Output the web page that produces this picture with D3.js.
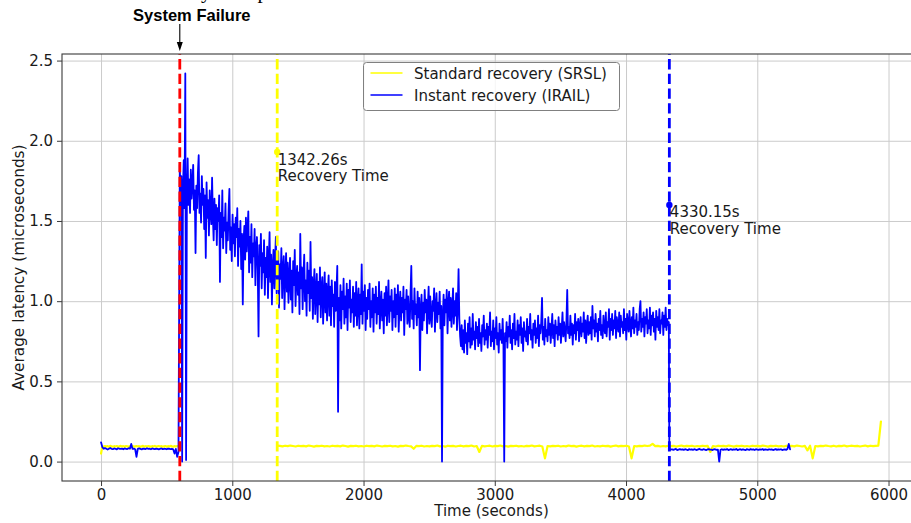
<!DOCTYPE html>
<html>
<head>
<meta charset="utf-8">
<script src="https://cdn.jsdelivr.net/npm/d3@7"></script>
<style>
  body { margin: 0; background: #fff; }
  svg { display: block; font-family: "DejaVu Sans", sans-serif; }
</style>
</head>
<body>
<svg id="chart" width="911" height="523"></svg>
<script>
// ---- data -------------------------------------------------------------
const xTicks = [0, 1000, 2000, 3000, 4000, 5000, 6000];
const yTicks = [0, 0.5, 1.0, 1.5, 2.0, 2.5];
const yTickLabels = ["0.0", "0.5", "1.0", "1.5", "2.0", "2.5"];
const seriesNames = ["Standard recovery (SRSL)", "Instant recovery (IRAIL)"];

const failureTime = 600;            // seconds
const srslRecoveryTime = 1342.26;   // seconds
const irailRecoveryTime = 4330.15;  // seconds
const srslMarkerLatency = 1.93;
const irailMarkerLatency = 1.60;

// IRAIL latency before the failure (t = 0 .. 590 s, every 10 s)
const irailBeforeStart = 0, irailBeforeStep = 10;
const irailBefore = [
  0.12, 0.09, 0.08, 0.085, 0.08, 0.075, 0.08, 0.085, 0.08, 0.078,
  0.082, 0.08, 0.076, 0.083, 0.08, 0.079, 0.081, 0.077, 0.082, 0.08,
  0.078, 0.083, 0.08, 0.11, 0.079, 0.081, 0.077, 0.03, 0.08, 0.082,
  0.079, 0.076, 0.081, 0.08, 0.078, 0.083, 0.079, 0.08, 0.077, 0.082,
  0.08, 0.078, 0.081, 0.079, 0.076, 0.08, 0.082, 0.078, 0.08, 0.079,
  0.077, 0.081, 0.08, 0.078, 0.08, 0.076, 0.05, 0.079, 0.03, 0.06
];

// IRAIL latency while recovering (t = 600 .. 4326 s, every 6 s)
const irailRecoveringStart = 600, irailRecoveringStep = 6;
const irailRecovering = [
  1.85, 1.62, 1.78, 0.00, 1.70, 1.88, 1.58, 2.42, 0.01, 1.66,
  1.89, 1.60, 1.76, 1.55, 1.82, 1.64, 1.73, 1.85, 1.57, 1.69,
  1.30, 1.72, 1.58, 1.80, 1.91, 1.55, 1.67, 1.49, 1.78, 1.60,
  1.70, 1.45, 1.66, 1.27, 1.74, 1.52, 1.63, 1.41, 1.69, 1.56,
  1.48, 1.77, 1.53, 1.38, 1.64, 1.45, 1.60, 1.35, 1.58, 1.50,
  1.66, 1.12, 1.55, 1.40, 1.69, 1.33, 1.52, 1.44, 1.61, 1.30,
  1.49, 1.38, 1.57, 1.70, 1.32, 1.46, 1.25, 1.54, 1.36, 1.48,
  1.28, 1.52, 1.40, 1.58, 1.22, 1.45, 1.34, 1.50, 1.20, 1.42,
  0.98, 1.38, 1.47, 1.26, 1.52, 1.31, 1.44, 1.56, 1.18, 1.40,
  1.24, 1.48, 1.15, 1.36, 1.28, 1.45, 1.10, 1.33, 1.40, 1.19,
  0.78, 1.35, 1.22, 1.42, 1.08, 1.30, 1.18, 1.38, 1.04, 1.27,
  1.15, 1.34, 1.02, 1.25, 1.43, 1.12, 1.29, 0.98, 1.21, 1.32,
  1.08, 1.26, 1.40, 1.05, 1.19, 1.31, 0.96, 1.23, 1.14, 1.33,
  1.02, 1.20, 1.28, 0.95, 1.17, 1.30, 1.06, 1.24, 0.99, 1.15,
  1.27, 1.01, 1.19, 0.93, 1.25, 1.10, 1.32, 0.97, 1.14, 1.22,
  1.04, 1.18, 0.92, 1.42, 1.08, 1.21, 0.95, 1.16, 1.29, 1.00,
  1.13, 0.91, 1.24, 1.05, 1.19, 0.94, 1.37, 1.02, 1.15, 0.89,
  1.10, 1.20, 0.92, 1.06, 1.17, 0.87, 1.12, 0.98, 1.21, 0.90,
  1.08, 1.15, 0.86, 1.03, 1.18, 0.93, 1.11, 0.88, 1.05, 1.16,
  0.91, 1.09, 0.85, 1.13, 0.97, 1.04, 0.84, 1.12, 0.94, 1.07,
  1.22, 0.31, 1.02, 0.88, 1.10, 0.83, 1.06, 0.95, 1.14, 0.86,
  1.03, 0.90, 1.11, 0.82, 1.07, 0.96, 1.13, 0.87, 1.01, 0.93,
  1.09, 0.84, 1.05, 0.91, 1.12, 0.85, 0.99, 1.08, 0.83, 1.04,
  0.92, 1.23, 0.86, 1.06, 0.94, 1.10, 0.82, 1.02, 0.89, 1.07,
  0.95, 1.11, 0.84, 1.00, 0.90, 1.08, 0.81, 1.04, 0.93, 1.09,
  0.86, 1.02, 0.92, 1.12, 0.83, 0.98, 1.06, 0.88, 1.01, 0.80,
  1.05, 0.91, 1.09, 0.85, 0.99, 1.13, 0.87, 1.03, 0.94, 1.07,
  0.82, 1.00, 0.90, 1.08, 0.84, 1.04, 0.92, 1.10, 0.81, 0.98,
  1.06, 0.88, 1.02, 0.93, 1.09, 0.79, 1.01, 0.95, 1.07, 0.86,
  1.03, 0.91, 0.84, 1.05, 1.22, 0.89, 1.00, 0.83, 1.08, 0.92,
  0.98, 0.85, 1.06, 0.90, 1.02, 0.57, 0.95, 1.04, 0.82, 0.99,
  0.88, 1.07, 0.93, 1.01, 0.80, 0.97, 1.09, 0.86, 1.03, 0.91,
  0.84, 1.00, 0.94, 1.08, 0.81, 0.96, 1.05, 0.87, 0.99, 0.92,
  1.06, 0.83, 0.97, 0.00, 0.90, 1.04, 0.85, 1.01, 0.93, 1.07,
  0.80, 0.98, 1.06, 0.88, 1.02, 0.84, 0.96, 1.08, 0.86, 1.00,
  0.91, 1.05, 0.82, 0.97, 1.20, 0.89, 0.78, 0.72, 0.85, 0.70,
  0.82, 0.68, 0.88, 0.74, 0.80, 0.67, 0.86, 0.75, 0.90, 0.71,
  0.83, 0.73, 0.92, 0.76, 0.81, 0.70, 0.87, 0.77, 0.84, 0.72,
  0.89, 0.74, 0.80, 0.69, 0.85, 0.78, 0.91, 0.73, 0.82, 0.76,
  0.86, 0.71, 0.84, 0.79, 0.93, 0.72, 0.81, 0.75, 0.88, 0.70,
  0.83, 0.77, 0.90, 0.73, 0.80, 0.68, 0.86, 0.76, 0.82, 0.74,
  0.89, 0.72, 0.00, 0.80, 0.75, 0.87, 0.71, 0.84, 0.78, 0.91,
  0.74, 0.82, 0.70, 0.86, 0.77, 0.92, 0.73, 0.81, 0.76, 0.88,
  0.72, 0.85, 0.79, 0.90, 0.74, 0.83, 0.69, 0.87, 0.78, 0.81,
  0.75, 0.89, 0.73, 0.84, 0.80, 0.92, 0.76, 0.82, 0.71, 0.86,
  0.79, 0.88, 0.74, 0.83, 0.77, 0.91, 0.72, 0.85, 0.80, 0.87,
  1.02, 0.76, 0.84, 0.73, 0.89, 0.78, 0.82, 0.75, 0.90, 0.79,
  0.86, 0.74, 0.83, 0.92, 0.77, 0.85, 0.72, 0.88, 0.80, 0.84,
  0.76, 0.90, 0.79, 0.86, 0.74, 0.83, 0.93, 0.78, 0.87, 0.81,
  0.75, 0.88, 1.07, 0.80, 0.84, 0.77, 0.91, 0.79, 0.86, 0.73,
  0.85, 0.80, 0.92, 0.76, 0.87, 0.82, 0.89, 0.75, 0.84, 0.90,
  0.78, 0.86, 0.81, 0.93, 0.77, 0.88, 0.74, 0.85, 0.91, 0.79,
  0.87, 0.80, 0.90, 0.76, 0.97, 0.83, 0.88, 0.78, 0.92, 0.81,
  0.86, 0.75, 0.89, 0.82, 0.94, 0.79, 0.85, 0.77, 0.91, 0.83,
  0.80, 0.93, 0.78, 0.87, 0.84, 0.95, 0.76, 0.89, 0.82, 0.92,
  0.79, 0.88, 0.83, 0.94, 0.77, 0.90, 0.85, 0.81, 0.93, 0.78,
  0.91, 0.84, 0.87, 0.80, 0.95, 0.82, 0.89, 0.76, 0.92, 0.86,
  0.81, 0.94, 0.85, 0.78, 0.90, 0.83, 0.96, 0.80, 0.88, 0.84,
  0.92, 0.79, 0.87, 0.82, 0.95, 1.00, 0.81, 0.89, 0.84, 0.93,
  0.78, 0.90, 0.86, 0.95, 0.80, 0.88, 0.83, 0.96, 0.79, 0.91,
  0.85, 0.93, 0.81, 0.89, 0.76, 0.94, 0.84, 0.90, 0.82, 0.95,
  0.80, 0.88, 0.86, 0.93, 0.79, 0.91, 0.84, 0.96, 0.82, 0.89,
  0.85, 0.87
];

// IRAIL latency after recovery (t = 4330 .. 5250 s, every 10 s)
const irailAfterStart = 4330, irailAfterStep = 10;
const irailAfter = [
  0.08, 0.074, 0.077, 0.073, 0.076, 0.079, 0.072, 0.075, 0.078, 0.074,
  0.076, 0.073, 0.077, 0.075, 0.071, 0.078, 0.074, 0.076, 0.073, 0.077,
  0.075, 0.072, 0.076, 0.079, 0.074, 0.073, 0.077, 0.075, 0.071, 0.076,
  0.078, 0.074, 0.075, 0.072, 0.077, 0.076, 0.073, 0.075, 0.00, 0.074,
  0.077, 0.073, 0.076, 0.074, 0.078, 0.072, 0.075, 0.077, 0.073, 0.076,
  0.074, 0.079, 0.072, 0.075, 0.077, 0.073, 0.076, 0.074, 0.071, 0.077,
  0.075, 0.073, 0.078, 0.074, 0.076, 0.072, 0.077, 0.075, 0.073, 0.076,
  0.074, 0.078, 0.072, 0.076, 0.075, 0.073, 0.077, 0.074, 0.076, 0.072,
  0.075, 0.078, 0.073, 0.076, 0.074, 0.077, 0.072, 0.075, 0.076, 0.073,
  0.078, 0.11, 0.076
];

// SRSL latency before the failure (t = 0 .. 600 s, every 10 s)
const srslBeforeStart = 0, srslBeforeStep = 10;
const srslBefore = [
  0.05, 0.095, 0.093, 0.097, 0.094, 0.096, 0.092, 0.098, 0.095, 0.093,
  0.096, 0.094, 0.097, 0.092, 0.095, 0.098, 0.094, 0.096, 0.093, 0.097,
  0.095, 0.092, 0.096, 0.094, 0.098, 0.093, 0.095, 0.097, 0.094, 0.096,
  0.092, 0.095, 0.098, 0.093, 0.096, 0.094, 0.097, 0.095, 0.092, 0.096,
  0.094, 0.098, 0.093, 0.095, 0.097, 0.094, 0.096, 0.092, 0.095, 0.097,
  0.093, 0.096, 0.094, 0.098, 0.095, 0.093, 0.096, 0.094, 0.097, 0.095,
  0.09
];

// SRSL latency once it is back (t = 1342.26 .. 5942.26 s, every 20 s)
const srslAfterStart = 1342.26, srslAfterStep = 20;
const srslAfter = [
  0.10, 0.098, 0.095, 0.099, 0.096, 0.1, 0.097, 0.094, 0.099, 0.096,
  0.098, 0.095, 0.1, 0.097, 0.093, 0.098, 0.096, 0.099, 0.095, 0.097,
  0.094, 0.099, 0.096, 0.098, 0.095, 0.1, 0.097, 0.093, 0.098, 0.096,
  0.099, 0.095, 0.097, 0.094, 0.099, 0.096, 0.098, 0.095, 0.1, 0.097,
  0.094, 0.098, 0.096, 0.099, 0.095, 0.097, 0.093, 0.098, 0.096, 0.1,
  0.097, 0.095, 0.08, 0.098, 0.096, 0.099, 0.094, 0.097, 0.095, 0.098,
  0.096, 0.1, 0.095, 0.097, 0.093, 0.099, 0.096, 0.098, 0.094, 0.097,
  0.099, 0.095, 0.098, 0.096, 0.1, 0.094, 0.097, 0.06, 0.098, 0.095,
  0.097, 0.099, 0.094, 0.098, 0.096, 0.1, 0.095, 0.097, 0.093, 0.098,
  0.096, 0.099, 0.095, 0.097, 0.094, 0.098, 0.096, 0.1, 0.095, 0.097,
  0.099, 0.094, 0.02, 0.097, 0.095, 0.098, 0.096, 0.099, 0.094, 0.097,
  0.095, 0.1, 0.096, 0.098, 0.093, 0.097, 0.099, 0.095, 0.098, 0.096,
  0.1, 0.094, 0.097, 0.095, 0.099, 0.096, 0.098, 0.093, 0.097, 0.1,
  0.095, 0.098, 0.096, 0.099, 0.094, 0.02, 0.097, 0.095, 0.098, 0.096,
  0.1, 0.097, 0.099, 0.11, 0.096, 0.098, 0.094, 0.097, 0.095, 0.099,
  0.096, 0.098, 0.093, 0.097, 0.1, 0.095, 0.098, 0.096, 0.099, 0.094,
  0.097, 0.095, 0.099, 0.096, 0.098, 0.06, 0.097, 0.094, 0.099, 0.096,
  0.098, 0.095, 0.1, 0.097, 0.093, 0.098, 0.096, 0.099, 0.095, 0.097,
  0.094, 0.099, 0.096, 0.098, 0.095, 0.1, 0.097, 0.093, 0.098, 0.096,
  0.099, 0.095, 0.097, 0.094, 0.099, 0.096, 0.098, 0.095, 0.1, 0.097,
  0.094, 0.098, 0.07, 0.099, 0.02, 0.097, 0.095, 0.098, 0.096, 0.1,
  0.097, 0.095, 0.099, 0.094, 0.098, 0.096, 0.1, 0.095, 0.097, 0.099,
  0.096, 0.098, 0.094, 0.097, 0.1, 0.095, 0.099, 0.096, 0.098, 0.1,
  0.25
];

// ---- helpers ----------------------------------------------------------
function samples(start, step, values) {
  return values.map((v, i) => ({ t: start + i * step, v }));
}

const irailSeries = [
  ...samples(irailBeforeStart, irailBeforeStep, irailBefore),
  ...samples(irailRecoveringStart, irailRecoveringStep, irailRecovering),
  ...samples(irailAfterStart, irailAfterStep, irailAfter)
];
const srslBeforeSeries = samples(srslBeforeStart, srslBeforeStep, srslBefore);
const srslAfterSeries = samples(srslAfterStart, srslAfterStep, srslAfter);

// ---- layout -----------------------------------------------------------
const svg = d3.select("#chart");
const plot = { left: 62, top: 54, right: 921, bottom: 481 };

const x = d3.scaleLinear().domain([-297.5, 6247.5]).range([plot.left, plot.right]);
const y = d3.scaleLinear().domain([-0.121, 2.541]).range([plot.bottom, plot.top]);

const SRSL_COLOR = "#ffff00";
const IRAIL_COLOR = "#0000ff";
const FAIL_COLOR = "#ff0000";
const TEXT_COLOR = "#1a1a1a";
const SANS = "'DejaVu Sans', sans-serif";

svg.append("defs").append("clipPath").attr("id", "plot-clip")
  .append("rect")
  .attr("x", plot.left).attr("y", plot.top)
  .attr("width", plot.right - plot.left).attr("height", plot.bottom - plot.top);

// grid
const grid = svg.append("g").attr("class", "grid");
grid.append("g")
  .attr("transform", `translate(0,${plot.bottom})`)
  .call(d3.axisBottom(x).tickValues(xTicks).tickSize(-(plot.bottom - plot.top)).tickFormat(""))
  .call(g => g.select(".domain").remove())
  .call(g => g.selectAll("line").attr("stroke", "#cbcbcb").attr("stroke-width", 1));
grid.append("g")
  .attr("transform", `translate(${plot.left},0)`)
  .call(d3.axisLeft(y).tickValues(yTicks).tickSize(-(plot.right - plot.left)).tickFormat(""))
  .call(g => g.select(".domain").remove())
  .call(g => g.selectAll("line").attr("stroke", "#cbcbcb").attr("stroke-width", 1));

// data lines
const line = d3.line().x(d => x(d.t)).y(d => y(d.v));
const lines = svg.append("g").attr("clip-path", "url(#plot-clip)");

[srslBeforeSeries, srslAfterSeries].forEach(s => {
  lines.append("path").datum(s)
    .attr("d", line)
    .attr("fill", "none")
    .attr("stroke", SRSL_COLOR)
    .attr("stroke-width", 2.2)
    .attr("stroke-linejoin", "round")
    .attr("stroke-linecap", "round");
});
lines.append("path").datum(irailSeries)
  .attr("d", line)
  .attr("fill", "none")
  .attr("stroke", IRAIL_COLOR)
  .attr("stroke-width", 1.8)
  .attr("stroke-linejoin", "round")
  .attr("stroke-linecap", "round");

// vertical event markers (dashes start at the bottom of the axes)
const events = [
  { t: failureTime, color: FAIL_COLOR },
  { t: srslRecoveryTime, color: SRSL_COLOR },
  { t: irailRecoveryTime, color: IRAIL_COLOR }
];
lines.selectAll("line.event").data(events).join("line")
  .attr("class", "event")
  .attr("x1", d => x(d.t)).attr("x2", d => x(d.t))
  .attr("y1", plot.bottom).attr("y2", plot.top)
  .attr("stroke", d => d.color)
  .attr("stroke-width", 2.8)
  .attr("stroke-dasharray", "10.3,4.4");

// recovery markers and their labels
const recoveries = [
  { t: srslRecoveryTime, v: srslMarkerLatency, color: SRSL_COLOR },
  { t: irailRecoveryTime, v: irailMarkerLatency, color: IRAIL_COLOR }
];
recoveries.forEach(r => {
  svg.append("circle")
    .attr("cx", x(r.t)).attr("cy", y(r.v)).attr("r", 3.2)
    .attr("fill", r.color);
  const label = svg.append("text")
    .attr("x", x(r.t) + 0.5)
    .attr("y", y(r.v) + 12.5)
    .style("font-family", SANS)
    .style("font-size", "15px")
    .attr("fill", TEXT_COLOR);
  label.append("tspan").attr("x", x(r.t) + 0.5).text(`${r.t.toFixed(2)}s`);
  label.append("tspan").attr("x", x(r.t) + 0.5).attr("dy", 16.5).text("Recovery Time");
});

// frame
svg.append("rect")
  .attr("x", plot.left).attr("y", plot.top)
  .attr("width", plot.right - plot.left).attr("height", plot.bottom - plot.top)
  .attr("fill", "none").attr("stroke", "#3a3a3a").attr("stroke-width", 1.1);

// axes
const xAxis = svg.append("g")
  .attr("transform", `translate(0,${plot.bottom})`)
  .call(d3.axisBottom(x).tickValues(xTicks).tickSize(5).tickPadding(3.5).tickFormat(d3.format("d")));
const yAxis = svg.append("g")
  .attr("transform", `translate(${plot.left},0)`)
  .call(d3.axisLeft(y).tickValues(yTicks).tickSize(5).tickPadding(4)
    .tickFormat((d, i) => yTickLabels[i]));
[xAxis, yAxis].forEach(a => {
  a.select(".domain").remove();
  a.selectAll("line").attr("stroke", "#3a3a3a").attr("stroke-width", 1);
  a.selectAll("text")
    .style("font-family", SANS)
    .style("font-size", "15px")
    .attr("fill", TEXT_COLOR);
});

svg.append("text")
  .attr("x", (plot.left + plot.right) / 2)
  .attr("y", 516)
  .attr("text-anchor", "middle")
  .style("font-family", SANS)
  .style("font-size", "15px")
  .attr("fill", TEXT_COLOR)
  .text("Time (seconds)");

svg.append("text")
  .attr("transform", `translate(24,${(plot.top + plot.bottom) / 2}) rotate(-90)`)
  .attr("text-anchor", "middle")
  .style("font-family", SANS)
  .style("font-size", "15.3px")
  .attr("fill", TEXT_COLOR)
  .text("Average latency (microseconds)");

// legend
const legend = svg.append("g").attr("transform", "translate(363.5,62.5)");
legend.append("rect")
  .attr("width", 256).attr("height", 48).attr("rx", 3)
  .attr("fill", "rgba(255,255,255,0.8)")
  .attr("stroke", "#808080").attr("stroke-width", 1);
[SRSL_COLOR, IRAIL_COLOR].forEach((c, i) => {
  const yy = 10.5 + i * 22;
  legend.append("line")
    .attr("x1", 7).attr("x2", 39).attr("y1", yy).attr("y2", yy)
    .attr("stroke", c).attr("stroke-width", 1.5);
  legend.append("text")
    .attr("x", 50.5).attr("y", yy + 5.5)
    .style("font-family", SANS)
    .style("font-size", "15px")
    .attr("fill", TEXT_COLOR)
    .text(seriesNames[i]);
});

// failure callout above the axes
const failX = x(failureTime);
svg.append("text")
  .attr("x", failX + 12).attr("y", 21)
  .attr("text-anchor", "middle")
  .style("font-family", "'Liberation Sans', Arial, sans-serif")
  .style("font-weight", "bold")
  .style("font-size", "16.5px")
  .attr("fill", "#000")
  .text("System Failure");
svg.append("line")
  .attr("x1", failX).attr("x2", failX)
  .attr("y1", 24).attr("y2", 44)
  .attr("stroke", "#000").attr("stroke-width", 1.1);
svg.append("path")
  .attr("d", d3.line()([[failX - 3, 42], [failX + 3, 42], [failX, 51]]) + "Z")
  .attr("fill", "#000");

// page title, sitting above the visible area so only its descenders show
const titleY = -1.8;
const SERIF = "'Liberation Serif', 'Times New Roman', serif";
svg.append("text")
  .attr("x", 201).attr("y", titleY)
  .attr("text-anchor", "end")
  .style("font-family", SERIF)
  .style("font-size", "21px")
  .attr("fill", "#000")
  .text("Latenc");
svg.append("text")
  .attr("x", 201).attr("y", titleY)
  .style("font-family", SERIF)
  .style("font-size", "21px")
  .attr("fill", "#000")
  .text("y Comparison");
</script>
</body>
</html>
